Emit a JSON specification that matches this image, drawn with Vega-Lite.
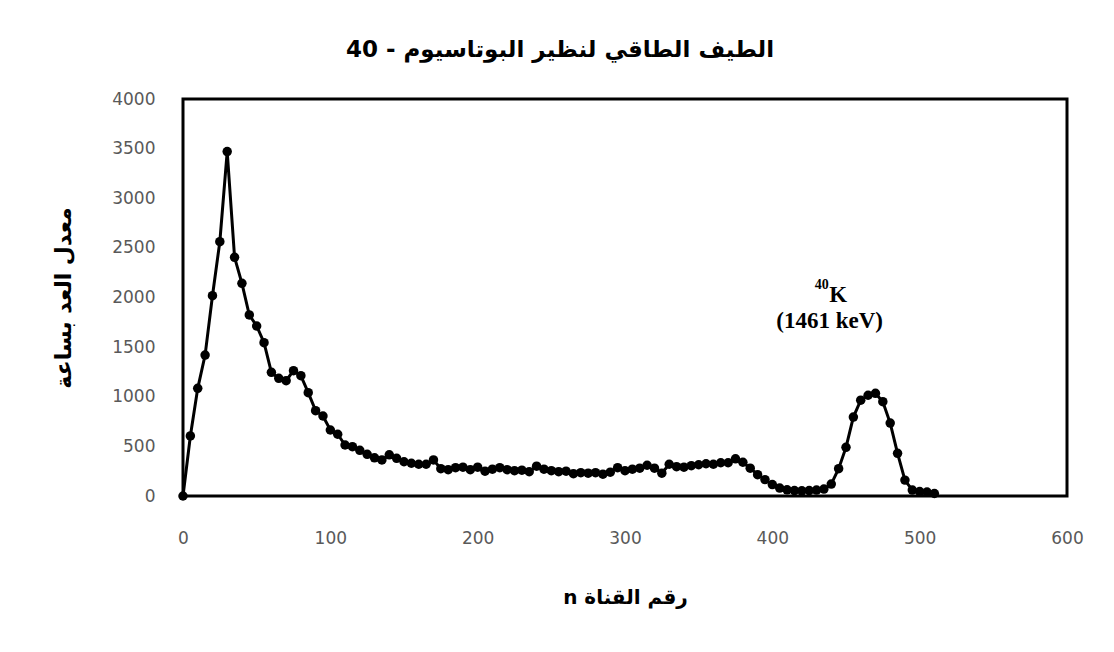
{
  "$schema": "https://vega.github.io/schema/vega-lite/v6.json",
  "width": 884,
  "height": 397,
  "autosize": {"type": "none"},
  "padding": {"left": 183, "top": 99, "right": 47, "bottom": 156},
  "background": "white",
  "title": {
    "text": "الطيف الطاقي لنظير البوتاسيوم - 40",
    "font": "DejaVu Sans",
    "fontSize": 23,
    "fontWeight": "bold",
    "color": "black",
    "offset": 10,
    "baseline": "alphabetic",
    "anchor": "middle",
    "frame": "group",
    "dx": -65
  },
  "config": {
    "view": {"stroke": "black", "strokeWidth": 3},
    "axis": {
      "grid": false,
      "domain": false,
      "ticks": false,
      "labelFlush": false,
      "labelFont": "DejaVu Sans",
      "labelFontSize": 17,
      "labelColor": "#595959",
      "titleFont": "DejaVu Sans",
      "titleFontSize": 20,
      "titleFontWeight": "bold",
      "titleColor": "black"
    }
  },
  "data": {
    "values": [
      {"n": 0, "rate": 0}, {"n": 5, "rate": 605}, {"n": 10, "rate": 1085}, {"n": 15, "rate": 1420},
      {"n": 20, "rate": 2018}, {"n": 25, "rate": 2562}, {"n": 30, "rate": 3470}, {"n": 35, "rate": 2405},
      {"n": 40, "rate": 2143}, {"n": 45, "rate": 1824}, {"n": 50, "rate": 1713}, {"n": 55, "rate": 1545},
      {"n": 60, "rate": 1246}, {"n": 65, "rate": 1186}, {"n": 70, "rate": 1162}, {"n": 75, "rate": 1263},
      {"n": 80, "rate": 1212}, {"n": 85, "rate": 1041}, {"n": 90, "rate": 860}, {"n": 95, "rate": 806},
      {"n": 100, "rate": 665}, {"n": 105, "rate": 622}, {"n": 110, "rate": 514}, {"n": 115, "rate": 497},
      {"n": 120, "rate": 460}, {"n": 125, "rate": 420}, {"n": 130, "rate": 385}, {"n": 135, "rate": 363},
      {"n": 140, "rate": 415}, {"n": 145, "rate": 380}, {"n": 150, "rate": 345}, {"n": 155, "rate": 330},
      {"n": 160, "rate": 320}, {"n": 165, "rate": 320}, {"n": 170, "rate": 363}, {"n": 175, "rate": 275},
      {"n": 180, "rate": 265}, {"n": 185, "rate": 285}, {"n": 190, "rate": 290}, {"n": 195, "rate": 265},
      {"n": 200, "rate": 290}, {"n": 205, "rate": 250}, {"n": 210, "rate": 270}, {"n": 215, "rate": 285},
      {"n": 220, "rate": 265}, {"n": 225, "rate": 255}, {"n": 230, "rate": 260}, {"n": 235, "rate": 245},
      {"n": 240, "rate": 300}, {"n": 245, "rate": 270}, {"n": 250, "rate": 255}, {"n": 255, "rate": 245},
      {"n": 260, "rate": 250}, {"n": 265, "rate": 225}, {"n": 270, "rate": 235}, {"n": 275, "rate": 230},
      {"n": 280, "rate": 235}, {"n": 285, "rate": 220}, {"n": 290, "rate": 240}, {"n": 295, "rate": 285},
      {"n": 300, "rate": 255}, {"n": 305, "rate": 270}, {"n": 310, "rate": 280}, {"n": 315, "rate": 310},
      {"n": 320, "rate": 280}, {"n": 325, "rate": 230}, {"n": 330, "rate": 320}, {"n": 335, "rate": 295},
      {"n": 340, "rate": 290}, {"n": 345, "rate": 305}, {"n": 350, "rate": 315}, {"n": 355, "rate": 325},
      {"n": 360, "rate": 320}, {"n": 365, "rate": 335}, {"n": 370, "rate": 335}, {"n": 375, "rate": 375},
      {"n": 380, "rate": 340}, {"n": 385, "rate": 280}, {"n": 390, "rate": 215}, {"n": 395, "rate": 165},
      {"n": 400, "rate": 115}, {"n": 405, "rate": 80}, {"n": 410, "rate": 62}, {"n": 415, "rate": 55},
      {"n": 420, "rate": 52}, {"n": 425, "rate": 55}, {"n": 430, "rate": 60}, {"n": 435, "rate": 70},
      {"n": 440, "rate": 120}, {"n": 445, "rate": 275}, {"n": 450, "rate": 490}, {"n": 455, "rate": 795},
      {"n": 460, "rate": 965}, {"n": 465, "rate": 1015}, {"n": 470, "rate": 1035}, {"n": 475, "rate": 950},
      {"n": 480, "rate": 735}, {"n": 485, "rate": 430}, {"n": 490, "rate": 160}, {"n": 495, "rate": 60},
      {"n": 500, "rate": 45}, {"n": 505, "rate": 40}, {"n": 510, "rate": 25}
    ]
  },
  "encoding": {
    "x": {
      "field": "n",
      "type": "quantitative",
      "scale": {"domain": [0, 600], "nice": false},
      "axis": {"title": "⁧رقم القناة n⁩", "format": "d", "values": [0, 100, 200, 300, 400, 500, 600], "labelPadding": 34, "titlePadding": 41}
    },
    "y": {
      "field": "rate",
      "type": "quantitative",
      "scale": {"domain": [0, 4000], "nice": false},
      "axis": {"title": "معدل العد بساعة", "format": "d", "titleFontSize": 22, "values": [0, 500, 1000, 1500, 2000, 2500, 3000, 3500, 4000], "labelPadding": 28, "titlePadding": 36}
    }
  },
  "layer": [
    {"mark": {"type": "line", "color": "black", "strokeWidth": 3}},
    {"mark": {"type": "point", "filled": true, "color": "black", "opacity": 1, "size": 90}},
    {
      "data": {"values": [{"label": "K", "n": 444.7, "rate": 1955}]},
      "mark": {"type": "text", "font": "Liberation Serif", "fontWeight": "bold", "fontSize": 23, "align": "center", "baseline": "alphabetic", "color": "black"},
      "encoding": {"text": {"field": "label"}}
    },
    {
      "data": {"values": [{"label": "40", "n": 438.3, "rate": 2090}]},
      "mark": {"type": "text", "font": "Liberation Serif", "fontWeight": "bold", "fontSize": 14, "align": "right", "baseline": "alphabetic", "color": "black"},
      "encoding": {"text": {"field": "label"}}
    },
    {
      "data": {"values": [{"label": "(1461 keV)", "n": 438.9, "rate": 1693}]},
      "mark": {"type": "text", "font": "Liberation Serif", "fontWeight": "bold", "fontSize": 23, "align": "center", "baseline": "alphabetic", "color": "black"},
      "encoding": {"text": {"field": "label"}}
    }
  ]
}
